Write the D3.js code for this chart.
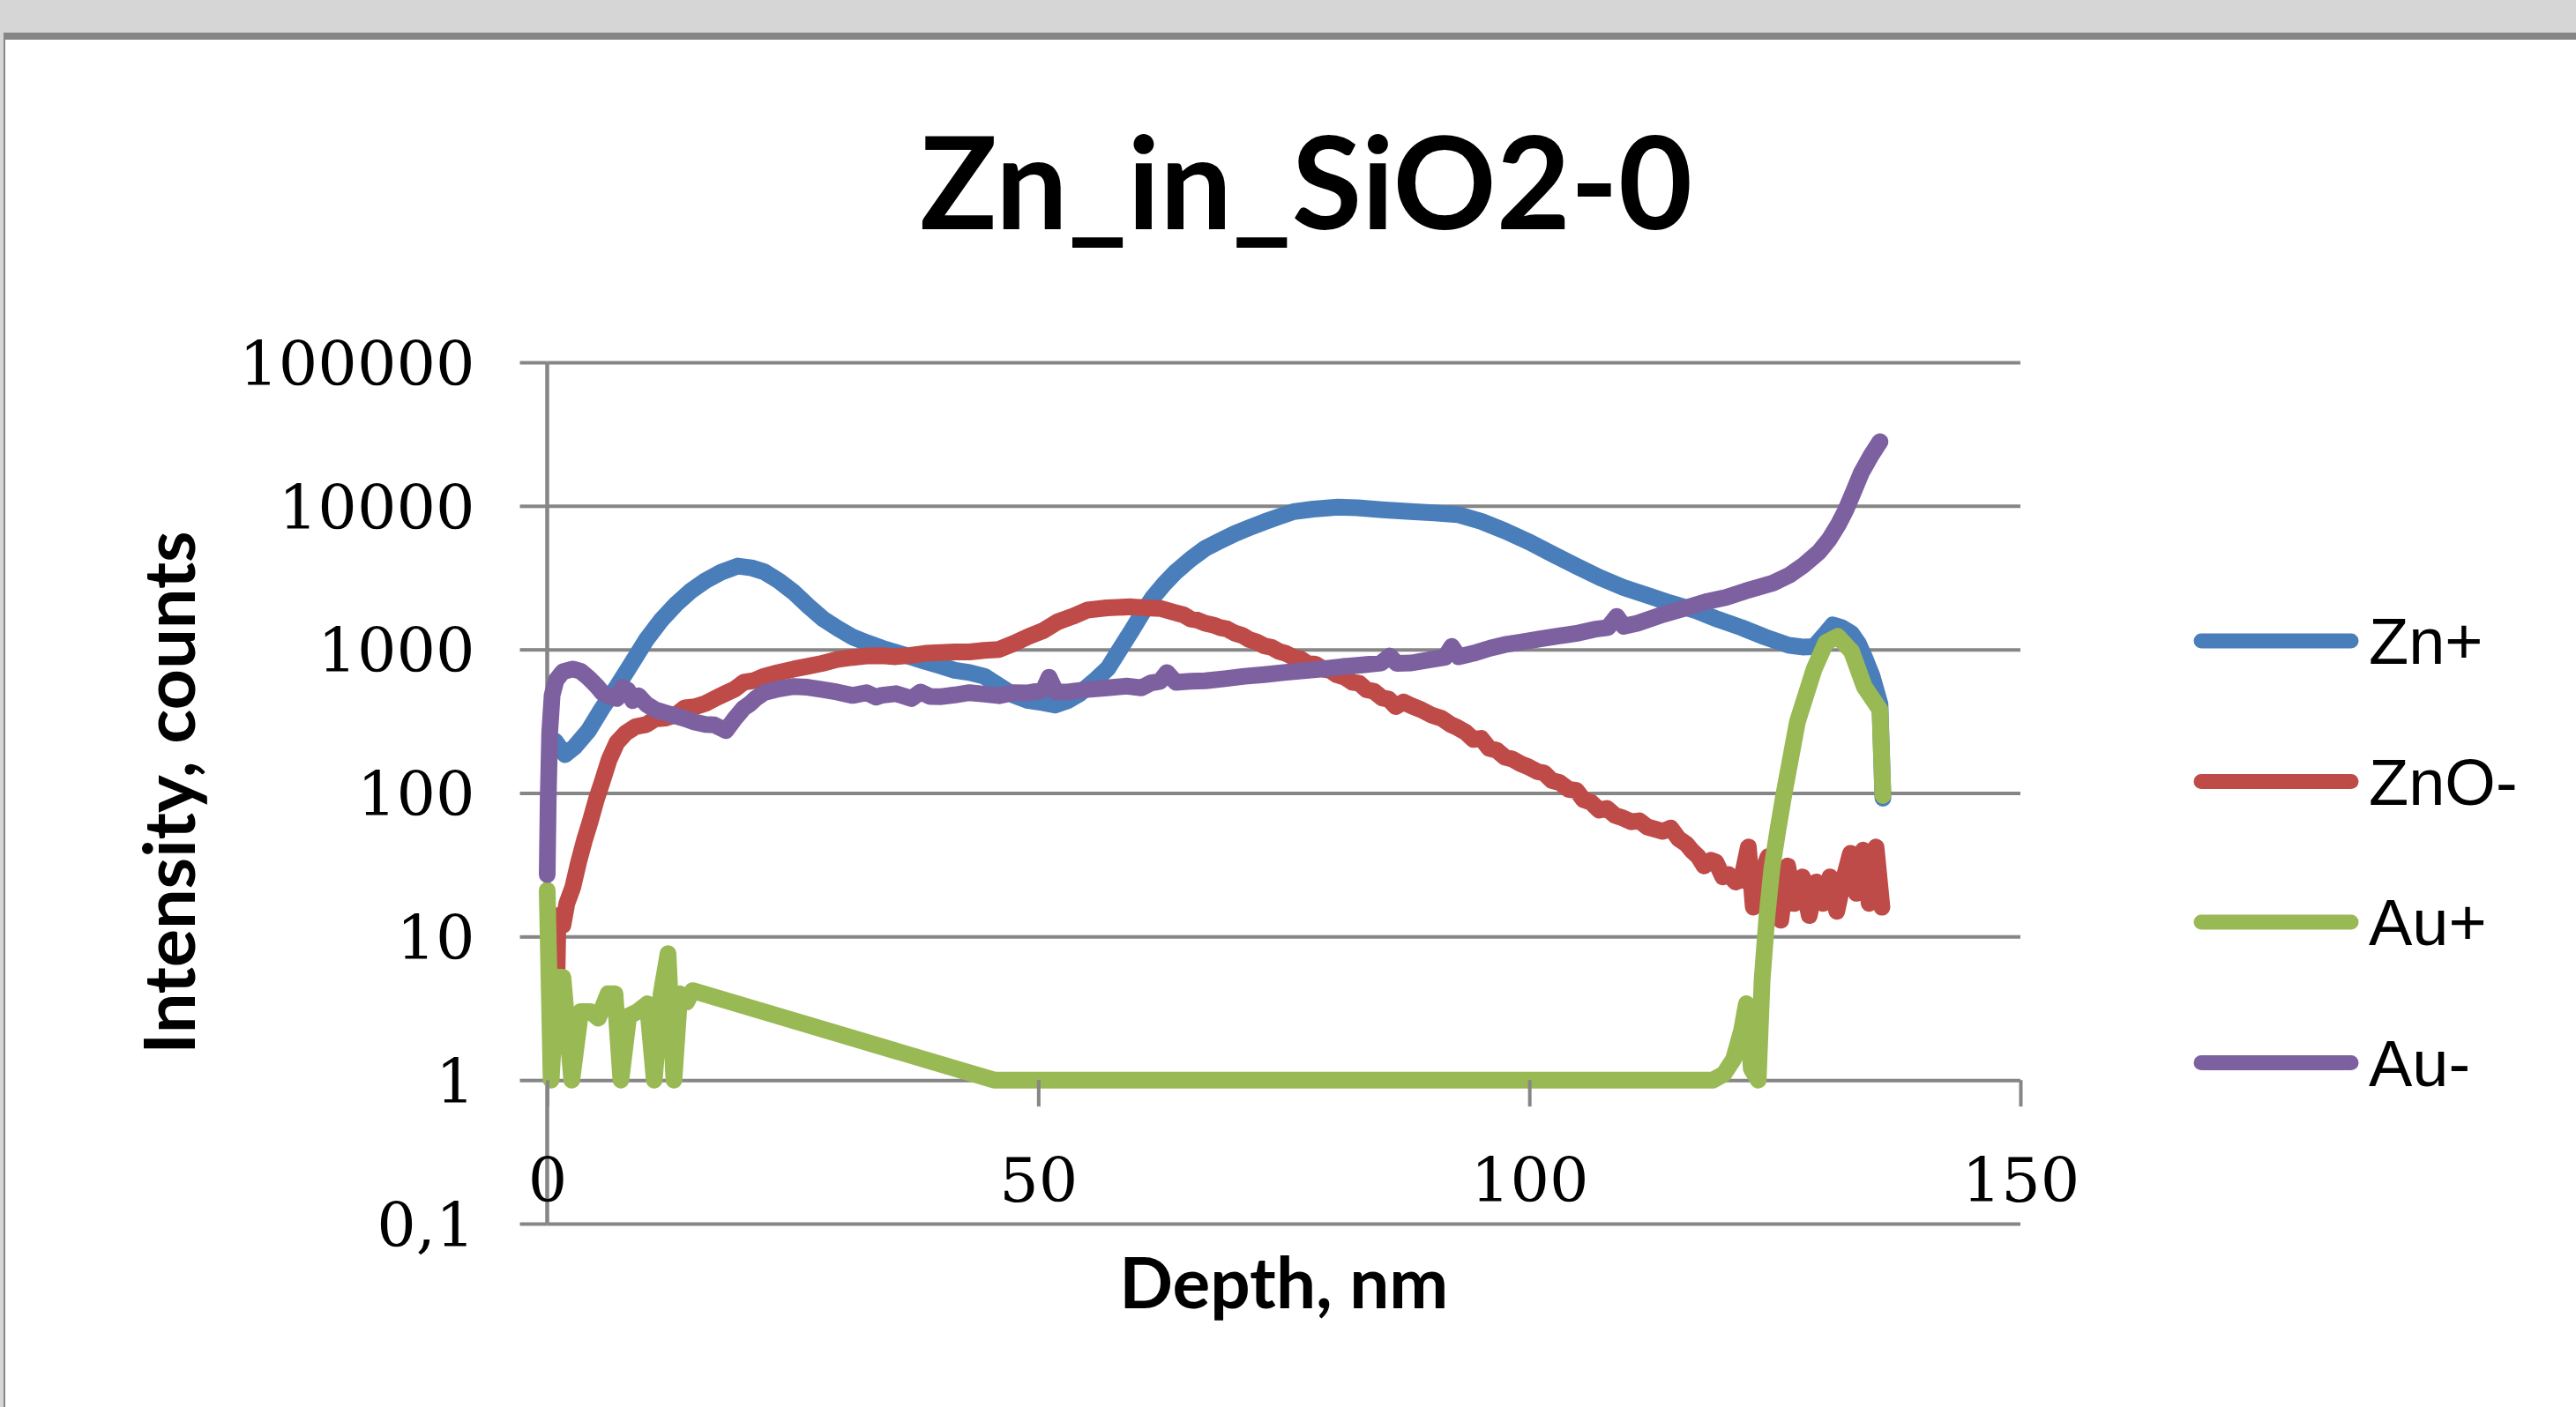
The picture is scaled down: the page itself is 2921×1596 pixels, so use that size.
<!DOCTYPE html>
<html>
<head>
<meta charset="utf-8">
<script src="https://cdn.jsdelivr.net/npm/d3@7"></script>
<style>
  html, body { margin: 0; padding: 0; background: #d6d6d6; overflow: hidden; }
</style>
</head>
<body>
<script>
// chart values (depth in nm, intensity in counts)
const seriesNames  = ["Zn+", "ZnO-", "Au+", "Au-"];
const seriesColors = ["#4a7ebb", "#be4b48", "#98b954", "#7d60a0"];
const xTickValues  = [0, 50, 100, 150];
const yTickValues  = [0.1, 1, 10, 100, 1000, 10000, 100000];
const yTickLabels  = ["0,1", "1", "10", "100", "1000", "10000", "100000"];

const znPlus = [[0.8,230],[1.8,185],[2.8,210],[4.2,272],[5.6,390],[7.1,551],[8.6,800],[10.1,1170],[11.6,1600],[13.1,2060],
  [14.6,2550],[16.1,3010],[17.7,3450],[19.4,3810],[20.8,3700],[22.1,3470],[23.6,3000],[25.1,2500],[26.6,2000],[28.1,1630],
  [29.6,1400],[31.1,1220],[32.6,1110],[34.1,1020],[35.6,950],[37.1,885],[38.6,820],[40.0,770],[41.5,715],[43.0,690],
  [44.5,650],[46.0,560],[47.5,480],[49.0,440],[50.5,425],[51.7,410],[53.0,440],[54.2,490],[55.0,550],[55.9,620],
  [57.1,740],[58.3,1000],[59.5,1350],[60.5,1750],[61.6,2270],[62.8,2850],[64.0,3470],[65.5,4250],[67.0,5060],[68.5,5700],
  [70.0,6400],[71.5,7050],[73.0,7730],[74.5,8400],[76.0,9120],[78.0,9500],[80.5,9800],[82.5,9700],[85.0,9400],[87.9,9120],
  [90.3,8950],[92.7,8700],[95.1,7800],[97.5,6700],[100.0,5600],[102.4,4600],[104.8,3800],[107.2,3160],[109.6,2700],[112.0,2380],
  [114.4,2100],[116.8,1880],[119.2,1620],[121.6,1420],[124.0,1220],[126.4,1070],[127.8,1040],[129.0,1045],[130.0,1250],[130.9,1480],
  [131.8,1420],[132.8,1290],[133.5,1100],[134.1,890],[134.9,650],[135.7,416],[136.0,92]];

const znoMinus = [[1.0,5.5],[1.1,14],[1.6,12],[2.0,17],[2.6,22],[3.2,33],[3.8,47],[4.4,64],[5.0,90],[5.6,120],
  [6.3,170],[7.1,225],[8.0,262],[9.0,290],[10.1,300],[11.0,328],[12.0,332],[13.1,350],[14.0,392],[15.0,398],
  [16.1,420],[17.0,452],[18.0,488],[19.1,530],[20.0,590],[21.0,605],[22.1,650],[23.5,690],[25.1,730],[26.5,762],
  [28.0,800],[29.5,850],[31.1,880],[32.5,900],[34.1,905],[35.5,890],[37.0,910],[38.5,940],[40.0,950],[41.5,960],
  [43.0,960],[44.5,985],[46.0,1000],[47.5,1100],[49.0,1230],[50.5,1350],[52.0,1560],[53.5,1700],[55.0,1880],[57.0,1950],
  [59.5,1980],[61.0,1950],[62.5,1925],[64.0,1800],[64.8,1740],[65.5,1630],[66.2,1600],[67.0,1520],[67.8,1480],[68.5,1420],
  [69.2,1390],[70.0,1300],[70.8,1250],[71.5,1170],[72.2,1130],[73.0,1060],[73.8,1030],[74.5,970],[75.2,940],[76.0,880],
  [76.7,860],[77.4,800],[78.2,790],[79.0,730],[79.7,715],[80.4,665],[81.2,640],[82.0,590],[82.7,580],[83.4,525],
  [84.2,510],[85.0,460],[85.7,450],[86.4,400],[87.2,430],[88.0,405],[89.0,380],[90.0,350],[91.1,330],[92.0,300],
  [92.7,285],[93.5,265],[94.3,236],[95.1,240],[95.9,205],[96.7,198],[97.5,178],[98.3,172],[99.1,160],[99.9,152],
  [100.8,141],[101.5,138],[102.3,122],[103.1,118],[104.0,106],[104.8,104],[105.5,90],[106.3,86],[107.1,76],[107.9,78],
  [108.7,70],[109.5,67],[110.4,63],[111.2,64],[112.0,58],[112.8,56],[113.6,54],[114.4,57],[115.2,48],[116.0,44],
  [116.5,40],[117.2,36],[117.8,31],[118.5,34],[119.0,33],[119.7,26],[120.3,27],[121.0,24],[121.6,25],[122.3,42],
  [122.8,16],[123.5,25],[124.3,36],[124.9,20],[125.6,13],[126.3,31],[127.0,17],[127.8,26],[128.5,14],[129.2,24],
  [129.9,17],[130.6,26],[131.3,15],[132.0,25],[132.7,38],[133.3,20],[134.0,40],[134.6,17],[135.3,42],[135.9,16]];

const auPlus = [[0.0,21],[0.4,1],[1.0,5.2],[1.6,5.2],[2.5,1],[3.4,3.0],[4.4,3.0],[5.2,2.7],[6.2,4.0],[6.9,4.0],
  [7.5,1],[8.3,2.8],[9.2,3.0],[10.2,3.4],[10.9,1],[11.6,4.0],[12.3,7.6],[12.9,1],[13.5,4.0],[14.2,3.5],
  [14.8,4.2],[45.5,1],[118.7,1],[119.8,1.1],[120.8,1.4],[121.6,2.2],[122.1,3.4],[122.6,1.2],[123.3,1],[123.7,5],
  [124.2,14],[124.7,30],[125.3,55],[125.9,96],[127.3,314],[129.0,731],[130.2,1120],[131.4,1230],[132.8,970],[134.1,551],
  [135.7,380],[136.0,96]];

const auMinus = [[0.0,27],[0.1,90],[0.25,260],[0.5,480],[0.9,610],[1.6,700],[2.6,730],[3.4,705],[4.2,635],[5.0,560],
  [5.6,500],[6.3,470],[7.1,455],[7.7,545],[8.2,520],[8.7,440],[9.3,475],[10.1,415],[11.0,380],[12.0,362],
  [13.1,344],[14.0,330],[15.0,312],[16.1,300],[17.0,298],[18.2,272],[19.1,330],[20.0,390],[20.6,416],[21.3,460],
  [22.1,500],[23.5,530],[25.1,552],[26.5,545],[28.0,526],[29.5,505],[31.1,478],[32.5,500],[33.5,465],[34.1,480],
  [35.5,492],[37.1,455],[38.0,505],[39.0,470],[40.0,468],[41.5,482],[43.0,500],[44.5,488],[46.0,476],[47.5,500],
  [49.0,498],[50.5,520],[51.1,640],[51.8,505],[53.0,505],[55.0,526],[57.0,540],[59.0,555],[60.5,540],[61.5,585],
  [62.4,600],[63.1,690],[64.0,590],[65.5,600],[67.0,605],[69.0,625],[71.0,650],[73.0,668],[75.0,690],[77.0,710],
  [79.0,732],[81.0,760],[83.0,780],[84.9,804],[85.8,900],[86.5,800],[88.0,805],[90.0,850],[91.4,880],[92.1,1050],
  [92.8,890],[94.3,940],[96.0,1020],[97.5,1080],[99.0,1120],[101.0,1180],[103.0,1240],[105.0,1300],[106.6,1380],[108.0,1420],
  [108.9,1700],[109.6,1450],[111.0,1520],[113.6,1750],[116.0,1950],[118.0,2150],[120.0,2300],[122.0,2550],[124.8,2900],[126.5,3300],
  [128.0,3900],[129.5,4780],[130.5,5800],[131.5,7500],[132.2,9300],[133.0,12500],[133.8,17000],[134.8,22500],[135.7,28000]];

const allSeries = [znPlus, znoMinus, auPlus, auMinus];

const W = 2921, H = 1596;
const plot = { left: 620.5, right: 2291, top: 411, bottom: 1388 };

const svg = d3.select("body").append("svg")
  .attr("width", W)
  .attr("height", H)
  .style("display", "block");

// window frame
svg.append("rect").attr("x", 0).attr("y", 0).attr("width", W).attr("height", H).attr("fill", "#d6d6d6");
svg.append("rect").attr("x", 4).attr("y", 37).attr("width", W).attr("height", H).attr("fill", "#868686");
svg.append("rect").attr("x", 6).attr("y", 45).attr("width", W).attr("height", H).attr("fill", "#ffffff");

const x = d3.scaleLinear().domain([0, 150]).range([plot.left, plot.right]);
const y = d3.scaleLog().domain([0.1, 100000]).range([plot.bottom, plot.top]);

const gridColor = "#868686";

// horizontal gridlines
svg.append("g")
  .attr("transform", "translate(" + plot.left + ",0)")
  .call(d3.axisRight(y).tickValues(yTickValues).tickSize(plot.right - plot.left).tickFormat(""))
  .call(g => g.select(".domain").remove())
  .call(g => g.selectAll("line").attr("stroke", gridColor).attr("stroke-width", 4));

// y axis with outside tick marks
const yAxis = svg.append("g")
  .attr("transform", "translate(" + plot.left + ",0)")
  .call(d3.axisLeft(y).tickValues(yTickValues).tickSize(31).tickPadding(51)
    .tickFormat((d, i) => yTickLabels[i]));
yAxis.select(".domain").attr("stroke", gridColor).attr("stroke-width", 4.5).attr("d", "M0," + plot.top + "V" + plot.bottom);
yAxis.selectAll("line").attr("stroke", gridColor).attr("stroke-width", 4);
yAxis.selectAll("text")
  .attr("font-family", "'DejaVu Serif', serif")
  .attr("font-size", 70)
  .attr("fill", "#000")
  .attr("dy", "0.36em");

// x axis crosses at 1
const xAxis = svg.append("g")
  .attr("transform", "translate(0," + y(1) + ")")
  .call(d3.axisBottom(x).tickValues(xTickValues).tickSize(30).tickPadding(58).tickFormat(d3.format("d")));
xAxis.select(".domain").remove();
xAxis.selectAll("line").attr("stroke", gridColor).attr("stroke-width", 4);
xAxis.selectAll("text")
  .attr("font-family", "'DejaVu Serif', serif")
  .attr("font-size", 70)
  .attr("fill", "#000");

// series
const line = d3.line()
  .x(d => x(d[0]))
  .y(d => y(d[1]));

svg.append("g")
  .selectAll("path")
  .data(allSeries)
  .enter()
  .append("path")
  .attr("d", line)
  .attr("fill", "none")
  .attr("stroke", (d, i) => seriesColors[i])
  .attr("stroke-width", 19)
  .attr("stroke-linejoin", "round")
  .attr("stroke-linecap", "round");

// keep x tick labels above the lines like the original
xAxis.raise();

// titles
svg.append("text")
  .attr("x", 1481).attr("y", 260)
  .attr("text-anchor", "middle")
  .attr("font-family", "Lato, sans-serif")
  .attr("font-weight", "bold")
  .attr("font-size", 145)
  .text("Zn_in_SiO2-0");

svg.append("text")
  .attr("transform", "translate(221,899) rotate(-90)")
  .attr("text-anchor", "middle")
  .attr("font-family", "Lato, sans-serif")
  .attr("font-weight", "bold")
  .attr("font-size", 81)
  .text("Intensity, counts");

svg.append("text")
  .attr("x", (plot.left + plot.right) / 2).attr("y", 1484)
  .attr("text-anchor", "middle")
  .attr("font-family", "Lato, sans-serif")
  .attr("font-weight", "bold")
  .attr("font-size", 80)
  .text("Depth, nm");

// legend
const legend = svg.append("g")
  .selectAll("g")
  .data(seriesNames)
  .enter()
  .append("g")
  .attr("transform", (d, i) => "translate(0," + (727 + i * 159.5) + ")");

legend.append("line")
  .attr("x1", 2496).attr("x2", 2666)
  .attr("y1", 0).attr("y2", 0)
  .attr("stroke", (d, i) => seriesColors[i])
  .attr("stroke-width", 17)
  .attr("stroke-linecap", "round");

legend.append("text")
  .attr("x", 2686).attr("y", 26)
  .attr("font-family", "'Liberation Sans', Arial, sans-serif")
  .attr("font-size", 74)
  .attr("fill", "#000")
  .text(d => d);
</script>
</body>
</html>
